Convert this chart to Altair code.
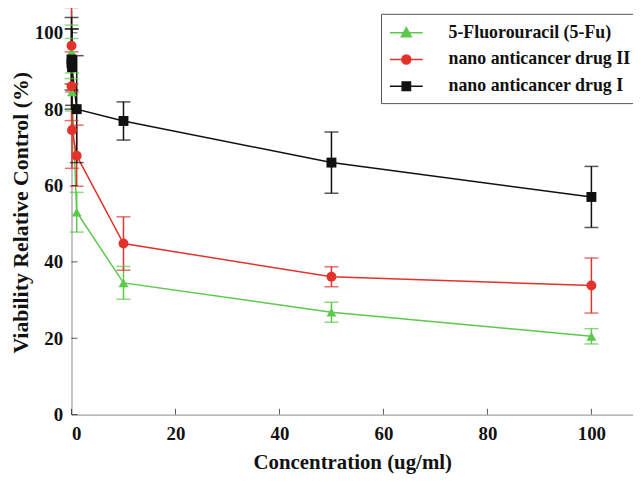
import altair as alt
import pandas as pd

conc = [0.001, 0.01, 0.1, 1, 10, 50, 100]
series_names = ["5-Fluorouracil (5-Fu)", "nano anticancer drug II", "nano anticancer drug I"]
fu_vals = [95.0, 92.5, 84.5, 53.0, 34.5, 26.8, 20.5]
fu_err = [7.0, 6.0, 5.0, 5.2, 4.3, 2.6, 2.0]
d2_vals = [96.6, 86.0, 74.5, 67.8, 44.8, 36.1, 33.8]
d2_err = [10.0, 9.0, 10.0, 8.0, 7.0, 2.6, 7.2]
d1_vals = [93.0, 92.0, 91.0, 80.0, 76.9, 66.0, 57.0]
d1_err = [8.0, 12.0, 10.0, 14.0, 5.0, 8.0, 8.0]
x_ticks = [0, 20, 40, 60, 80, 100]
y_ticks = [0, 20, 40, 60, 80, 100]

colors = ["#5cc94c", "#e3322b", "#111111"]
legend_shapes = [
    "M-1,0H2.3M0.65,-0.5L1.15,0.4L0.15,0.4Z",
    "M-1,0H2.3M1.1,0A0.45,0.45 0 1,1 0.2,0A0.45,0.45 0 1,1 1.1,0Z",
    "M-1,0H2.3M0.23,-0.42H1.07V0.42H0.23Z",
]
mk_shapes = ["triangle-up", "circle", "square"]

rows = []
for name, vals, errs in [(series_names[0], fu_vals, fu_err),
                         (series_names[1], d2_vals, d2_err),
                         (series_names[2], d1_vals, d1_err)]:
    for c, v, e in zip(conc, vals, errs):
        rows.append({"series": name, "conc": c, "val": v, "lo": v - e, "hi": v + e})
df = pd.DataFrame(rows)

FONT = "Liberation Serif"
W, H = 566, 408
xs = alt.Scale(domain=[0, 108], nice=False, zero=False)
ys = alt.Scale(domain=[0, 106], nice=False)
cscale = alt.Scale(domain=series_names, range=colors)

legend = alt.Legend(title=None, orient="none", legendX=312, legendY=4,
                    labelFont=FONT, labelFontSize=18, labelFontWeight="bold", labelColor="#111",
                    symbolSize=400, symbolStrokeWidth=1.5, strokeColor="#555",
                    fillColor="white", padding=8, rowPadding=7, labelOffset=38,
                    labelLimit=400, symbolOpacity=1)

base = alt.Chart(df)
xenc = alt.X("conc:Q", scale=xs,
             axis=alt.Axis(values=x_ticks, title="Concentration (ug/ml)", tickSize=0,
                           labelPadding=10, grid=False, domainColor="#888", titlePadding=8))
yenc = alt.Y("val:Q", scale=ys,
             axis=alt.Axis(values=y_ticks, title="Viability Relative Control (%)", tickSize=0,
                           labelPadding=9, grid=False, domainColor="#888", titlePadding=2))

col = alt.Color("series:N", scale=cscale, legend=None)

lines = base.mark_line(strokeWidth=1.5).encode(x=xenc, y=yenc, color=col, order="conc:Q")
err = base.mark_rule(strokeWidth=1.5, clip=False).encode(
    x="conc:Q", y="lo:Q", y2="hi:Q", color=col)
caps_lo = base.mark_tick(orient="horizontal", size=14, thickness=1.5).encode(
    x="conc:Q", y="lo:Q", color=col)
caps_hi = base.mark_tick(orient="horizontal", size=14, thickness=1.5, clip=False).encode(
    x="conc:Q", y="hi:Q", color=col)
mks = [
    base.transform_filter(alt.datum.series == s).mark_point(
        filled=True, opacity=1, size=100, shape=shp).encode(x="conc:Q", y="val:Q", color=col)
    for s, shp in zip(series_names, mk_shapes)
]

# legend-only layer (no rows drawn)
leg = base.transform_filter("datum.conc < 0").mark_point(filled=True, opacity=1, strokeWidth=1.5).encode(
    x="conc:Q", y="val:Q",
    fill=alt.Fill("series:N", scale=cscale, legend=legend),
    stroke=alt.Stroke("series:N", scale=cscale, legend=legend),
    shape=alt.Shape("series:N", scale=alt.Scale(domain=series_names, range=legend_shapes), legend=legend))

xt = alt.Chart(pd.DataFrame({"t": x_ticks})).mark_tick(orient="vertical", size=6, yOffset=-3, thickness=1, color="#111").encode(
    x="t:Q", y=alt.datum(0))
yt = alt.Chart(pd.DataFrame({"t": y_ticks})).mark_tick(orient="horizontal", size=6, xOffset=3, thickness=1, color="#111").encode(
    y="t:Q", x=alt.datum(0))

chart = alt.layer(lines, err, caps_lo, caps_hi, *mks, leg, xt, yt).resolve_scale(
    shape="independent", fill="independent", stroke="independent").properties(
    width=W, height=H, autosize=alt.AutoSizeParams(type="none"),
    padding={"left": 64, "top": 0, "right": 0, "bottom": 58}
).configure_view(stroke=None).configure_axis(
    labelFont=FONT, labelFontSize=19, labelFontWeight="bold", labelColor="#111",
    titleFont=FONT, titleFontSize=21, titleFontWeight="bold", titleColor="#111"
).configure_axisY(titleFontSize=22)

chart.save("out.html", embed_options={"renderer": "svg", "actions": False})
